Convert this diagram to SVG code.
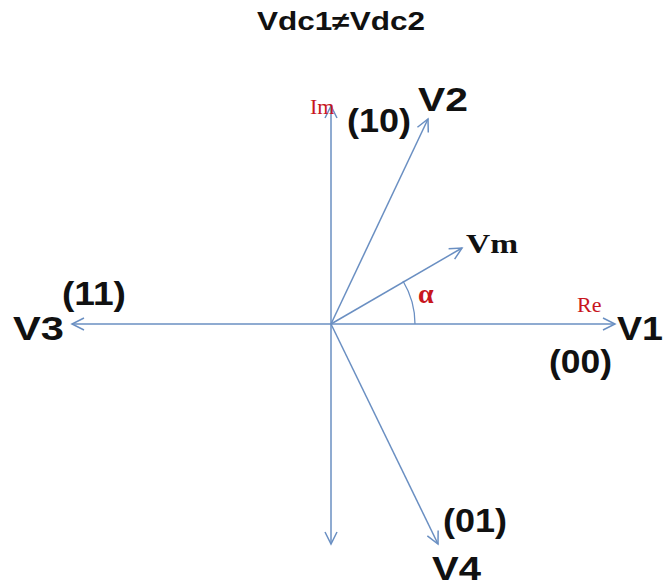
<svg xmlns="http://www.w3.org/2000/svg" width="665" height="587" viewBox="0 0 665 587">
<defs>
<marker id="ah" markerWidth="16" markerHeight="16" refX="14" refY="8" orient="auto" markerUnits="userSpaceOnUse">
<path d="M2,2 L14,8 L2,14" fill="none" stroke="#6a8fc2" stroke-width="1.5"/>
</marker>
<style>
.ax{stroke:#6a8fc2;stroke-width:1.5;fill:none;marker-end:url(#ah)}
.lb{font-family:"Liberation Sans",Arial,sans-serif;font-weight:bold;font-size:33px;fill:#111}
.rd{font-family:"Liberation Serif","Times New Roman",serif;font-size:22px;fill:#c8161d}
</style>
</defs>
<rect width="665" height="587" fill="#fff"/>
<g id="connectors">
<line class="ax" x1="331" y1="324" x2="615" y2="324"/>
<line class="ax" x1="331" y1="324" x2="72" y2="324"/>
<line class="ax" x1="331" y1="324" x2="331" y2="106"/>
<line class="ax" x1="331" y1="324" x2="331" y2="544"/>
<line class="ax" x1="331" y1="324" x2="428" y2="119"/>
<line class="ax" x1="331" y1="324" x2="438" y2="544"/>
<line class="ax" x1="331" y1="324" x2="462" y2="248"/>
<path d="M415,324 A84,84 0 0 0 403,281" fill="none" stroke="#6a8fc2" stroke-width="1.3"/>
</g>
<g id="title"><text x="257" y="30" style="font-family:'Liberation Sans',Arial,sans-serif;font-weight:bold;font-size:25px;fill:#111" textLength="168" lengthAdjust="spacingAndGlyphs">Vdc1≠Vdc2</text></g>
<g id="im"><text class="rd" x="310" y="114">Im</text></g>
<g id="re"><text class="rd" x="577" y="312">Re</text></g>
<g id="alpha"><text x="418" y="303" style="font-family:'Liberation Serif',serif;font-weight:bold;font-size:28px;fill:#c8161d">α</text></g>
<g id="vm"><text x="466" y="253" style="font-family:'Liberation Serif',serif;font-weight:bold;font-size:28px;fill:#111" textLength="52" lengthAdjust="spacingAndGlyphs">Vm</text></g>
<g id="v1"><text class="lb" x="617" y="340" textLength="46" lengthAdjust="spacingAndGlyphs">V1</text><text class="lb" x="549" y="373" textLength="63" lengthAdjust="spacingAndGlyphs">(00)</text></g>
<g id="v2"><text class="lb" x="418" y="111" textLength="50" lengthAdjust="spacingAndGlyphs">V2</text><text class="lb" x="347" y="132" textLength="64" lengthAdjust="spacingAndGlyphs">(10)</text></g>
<g id="v3"><text class="lb" x="13" y="340" textLength="51" lengthAdjust="spacingAndGlyphs">V3</text><text class="lb" x="62" y="305" textLength="64" lengthAdjust="spacingAndGlyphs">(11)</text></g>
<g id="v4"><text class="lb" x="432" y="580" textLength="49" lengthAdjust="spacingAndGlyphs">V4</text><text class="lb" x="443" y="532" textLength="64" lengthAdjust="spacingAndGlyphs">(01)</text></g>
</svg>
